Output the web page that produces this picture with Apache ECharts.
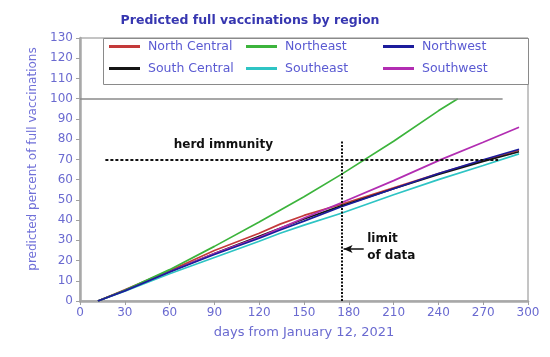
<!DOCTYPE html>
<html>
<head>
<meta charset="utf-8">
<script src="https://cdn.jsdelivr.net/npm/echarts@6/dist/echarts.min.js"></script>
<style>
html,body{margin:0;padding:0;background:#fff;}
#chart{width:550px;height:357px;}
</style>
</head>
<body>
<div id="chart"></div>
<script>
// ---- data ----
const seriesNames = ['North Central', 'Northeast', 'Northwest', 'South Central', 'Southeast', 'Southwest'];
const northCentral = [[12,0],[30,5.5],[60,15],[90,25],[120,33.5],[134,38],[150,42.3],[175,47.8],[210,56],[240,63],[270,69.5],[294,74.5]];
const northeast    = [[12,0],[30,5.3],[60,15.5],[90,27],[120,39],[150,51.5],[175,62.6],[210,79],[240,94],[253,100]];
const northwest    = [[12,0],[30,5],[60,14.3],[90,23],[120,31],[134,35.1],[150,39.5],[175,46.6],[210,55.5],[240,63],[270,69.8],[294,75]];
const southCentral = [[12,0],[30,5.2],[60,14.5],[90,23.5],[120,32],[150,40.5],[175,47],[210,55.5],[240,62.5],[270,69],[294,73.8]];
const southeast    = [[12,0],[30,4.8],[60,13.5],[90,21.5],[120,29.5],[134,33.5],[150,37.5],[175,43.4],[210,52.5],[240,60],[270,67],[294,72.7]];
const southwest    = [[12,0],[30,5.2],[60,14.5],[90,23.5],[120,31.5],[134,35.9],[150,41],[175,48.6],[210,59.5],[242,70],[270,78.5],[294,85.9]];
const xTicks = [0,30,60,90,120,150,180,210,240,270,300];
const yTicks = [0,10,20,30,40,50,60,70,80,90,100,110,120,130];
const herdLevel = 70;
const fullLevel = 100;
const limitDay = 175;

const colors = {
  'North Central':'#c43a3a','Northeast':'#3cb43c','Northwest':'#1c1c9c',
  'South Central':'#151515','Southeast':'#2ec4c4','Southwest':'#b22db2'
};
const dataMap = {
  'North Central':northCentral,'Northeast':northeast,'Northwest':northwest,
  'South Central':southCentral,'Southeast':southeast,'Southwest':southwest
};
const drawOrder = ['North Central','South Central','Southeast','Southwest','Northeast','Northwest'];

const labelColor = '#6a6ad0';
const FONT = 'DejaVu Sans';
const chart = echarts.init(document.getElementById('chart'));

const legendPos = {
  'North Central':[109,40],'Northeast':[246,40],'Northwest':[383,40],
  'South Central':[109,62],'Southeast':[246,62],'Southwest':[383,62]
};
const legends = seriesNames.map(n => ({
  data:[n], left:legendPos[n][0], top:legendPos[n][1], padding:0,
  icon:'rect', itemWidth:31, itemHeight:3, selectedMode:false, z:5,
  textStyle:{color:'#5a5ad2', fontSize:12.5, fontFamily:FONT, padding:[0,0,0,3]}
}));

const series = drawOrder.map(n => ({
  name:n, type:'line', data:dataMap[n], showSymbol:false, symbol:'none',
  lineStyle:{color:colors[n], width:1.7}, itemStyle:{color:colors[n]}, z:3
}));

series.push({
  name:'_ann', type:'line', data:[], silent:true, z:4,
  markLine:{
    silent:true, symbol:'none', animation:false,
    label:{show:false},
    data:[
      [{coord:[0,fullLevel], lineStyle:{color:'#8a8a8a', width:1.5, type:'solid'}},{coord:[283,fullLevel]}],
      [{coord:[17,herdLevel], lineStyle:{color:'#111', width:2, type:[3,2]}},{coord:[280,herdLevel]}],
      [{coord:[limitDay,0], lineStyle:{color:'#111', width:2, type:[2,1.5]}},{coord:[limitDay,79.5]}],
      [{coord:[190,25.7], symbol:'none', lineStyle:{color:'#111', width:1.5, type:'solid'}},{coord:[176.5,25.7], symbol:'arrow', symbolSize:[6,9]}]
    ]
  },
  markPoint:{
    silent:true, animation:false, symbol:'circle', symbolSize:0,
    data:[
      {coord:[96,77.1], name:'herd immunity', label:{show:true, position:'inside', formatter:'{b}', color:'#111', fontWeight:'bold', fontSize:12, fontFamily:FONT}},
      {coord:[192.3,26.4], name:'limit\nof data', label:{show:true, position:'right', distance:0, formatter:'{b}', color:'#111', fontWeight:'bold', fontSize:12, lineHeight:17, align:'left', fontFamily:FONT}}
    ]
  }
});

chart.setOption({
  animation:false,
  backgroundColor:'#fff',
  title:{
    text:'Predicted full vaccinations by region', left:245, textAlign:'center', top:9,
    textStyle:{color:'#3636b0', fontSize:12.5, fontWeight:'bold', fontFamily:FONT}
  },
  legend:legends,
  grid:{left:80, right:22, top:38, bottom:56, show:true, borderColor:'#8a8a8a', borderWidth:1},
  xAxis:{
    type:'value', min:0, max:300, interval:30,
    name:'days from January 12, 2021', nameLocation:'middle', nameGap:25,
    nameTextStyle:{color:labelColor, fontSize:13, fontFamily:FONT},
    axisLine:{show:true, onZero:false, lineStyle:{color:'#a8a8a8', width:2.5}},
    axisTick:{show:true, length:4, lineStyle:{color:'#a0a0a0', width:1}},
    axisLabel:{color:labelColor, fontSize:12, margin:6, fontFamily:FONT,
      formatter:v => xTicks.includes(v) ? String(v) : ''},
    splitLine:{show:false}
  },
  yAxis:{
    type:'value', min:0, max:130, interval:10,
    axisLine:{show:true, onZero:false, lineStyle:{color:'#a8a8a8', width:2.5}},
    axisTick:{show:true, length:4, lineStyle:{color:'#a0a0a0', width:1}},
    axisLabel:{color:labelColor, fontSize:12, margin:7, fontFamily:FONT,
      formatter:v => yTicks.includes(v) ? String(v) : ''},
    splitLine:{show:false}
  },
  graphic:[
    {type:'rect', left:103, top:38, shape:{width:425, height:46}, z:2,
      style:{fill:'#fff', stroke:'#8a8a8a', lineWidth:1}},
    {type:'text', x:33, y:159, rotation:Math.PI/2, z:2,
      style:{text:'predicted percent of full vaccinations', fill:'#7070d8', fontSize:12,
        fontFamily:FONT, align:'center', verticalAlign:'middle'}}
  ],
  series:series
});
</script>
</body>
</html>
